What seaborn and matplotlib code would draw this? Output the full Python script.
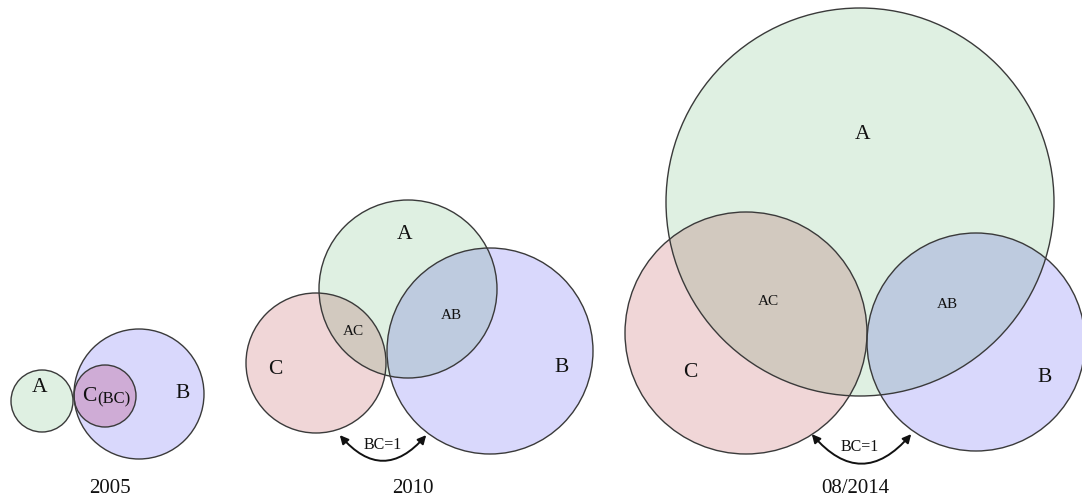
import numpy as np
import pandas as pd
import seaborn as sns
import matplotlib.pyplot as plt
from matplotlib.patches import Circle, FancyArrowPatch

# circle sets for each snapshot (pixel coords, y down)
panels = ["2005", "2005", "2005", "2010", "2010", "2010", "2014", "2014", "2014"]
sets = ["A", "B", "C", "A", "C", "B", "A", "C", "B"]
cx = [42, 139, 105, 408, 316, 490, 860, 746, 976]
cy = [402, 395, 397, 290, 364, 352, 203, 334, 343]
radius = [31, 65, 31, 89, 70, 103, 194, 121, 109]

# set colours (as seen on white)
set_colors = {"A": (223, 240, 226), "B": (217, 216, 252), "C": (240, 214, 215)}
c2005_color = (207, 172, 214)

# big set labels
label_text = ["A", "B", "A", "C", "B", "A", "C", "B"]
label_x = [40, 183, 405, 275, 562, 863, 690, 1045]
label_y = [388, 394, 235, 370, 368, 135, 373, 378]

# intersection labels
inter_text = ["AC", "AB", "AC", "AB"]
inter_x = [353, 451, 768, 947]
inter_y = [332, 316, 302, 305]

# BC=1 arrows
arrow_x0 = [338, 810]
arrow_x1 = [428, 913]
arrow_y = [434, 433]
bc_x = [383, 860]
bc_y = [445, 447]

years = ["2005", "2010", "08/2014"]
year_x = [110, 413, 855]
year_y = 489

circles = pd.DataFrame({"panel": panels, "set": sets, "x": cx, "y": cy, "r": radius})


def rgb(c):
    return tuple(v / 255 for v in c)


sns.set_theme(style="white")
plt.rcParams['font.family'] = ['Liberation Serif', 'DejaVu Serif']

fig = plt.figure(figsize=(10.82, 5.02), dpi=100)
ax = fig.add_axes([0, 0, 1, 1])
ax.set_xlim(0, 1082)
ax.set_ylim(502, 0)
ax.set_aspect('equal')
ax.axis('off')

# fills
for _, row in circles.iterrows():
    col = set_colors[row["set"]]
    if row["panel"] == "2005" and row["set"] == "C":
        col = c2005_color
    ax.add_patch(Circle((row["x"], row["y"]), row["r"], facecolor=rgb(col),
                        edgecolor='none', zorder=1))

# overlaps, multiply-blended colours (2005 C already drawn inside B)
for panel, grp in circles.groupby("panel"):
    if panel == "2005":
        continue
    rows = list(grp.itertuples())
    for i in range(len(rows)):
        for j in range(i + 1, len(rows)):
            a, b = rows[i], rows[j]
            mix = tuple(ca * cb / 255 for ca, cb in zip(set_colors[a.set], set_colors[b.set]))
            clip = Circle((a.x, a.y), a.r, transform=ax.transData)
            p = ax.add_patch(Circle((b.x, b.y), b.r, facecolor=rgb(mix),
                                    edgecolor='none', zorder=1.5))
            p.set_clip_path(clip)

# outlines
for _, row in circles.iterrows():
    ax.add_patch(Circle((row["x"], row["y"]), row["r"], facecolor='none',
                        edgecolor='#3a3a3a', lw=1.0, zorder=2))

for t, x, y in zip(label_text, label_x, label_y):
    ax.text(x, y, t, fontsize=15.5, ha='center', va='center', color='#111111', zorder=3)

# C with (BC) in 2005
ax.text(96, 397, "C", fontsize=15.5, ha='right', va='center', color='#111111', zorder=3)
ax.text(97.5, 399, "(BC)", fontsize=12, ha='left', va='center', color='#111111', zorder=3)

for t, x, y in zip(inter_text, inter_x, inter_y):
    ax.text(x, y, t, fontsize=11, ha='center', va='center', color='#111111', zorder=3)

for x0, x1, y, tx, ty in zip(arrow_x0, arrow_x1, arrow_y, bc_x, bc_y):
    arr = FancyArrowPatch((x0, y), (x1, y), connectionstyle="arc3,rad=0.6",
                          arrowstyle="<|-|>,head_length=5,head_width=2.5",
                          color='#111111', lw=1.4, zorder=3)
    ax.add_patch(arr)
    ax.text(tx, ty, "BC=1", fontsize=11.5, ha='center', va='center', color='#111111', zorder=3)

for t, x in zip(years, year_x):
    ax.text(x, year_y, t, fontsize=15, ha='center', va='center', color='#111111')

fig.savefig("out.png", dpi=100)
